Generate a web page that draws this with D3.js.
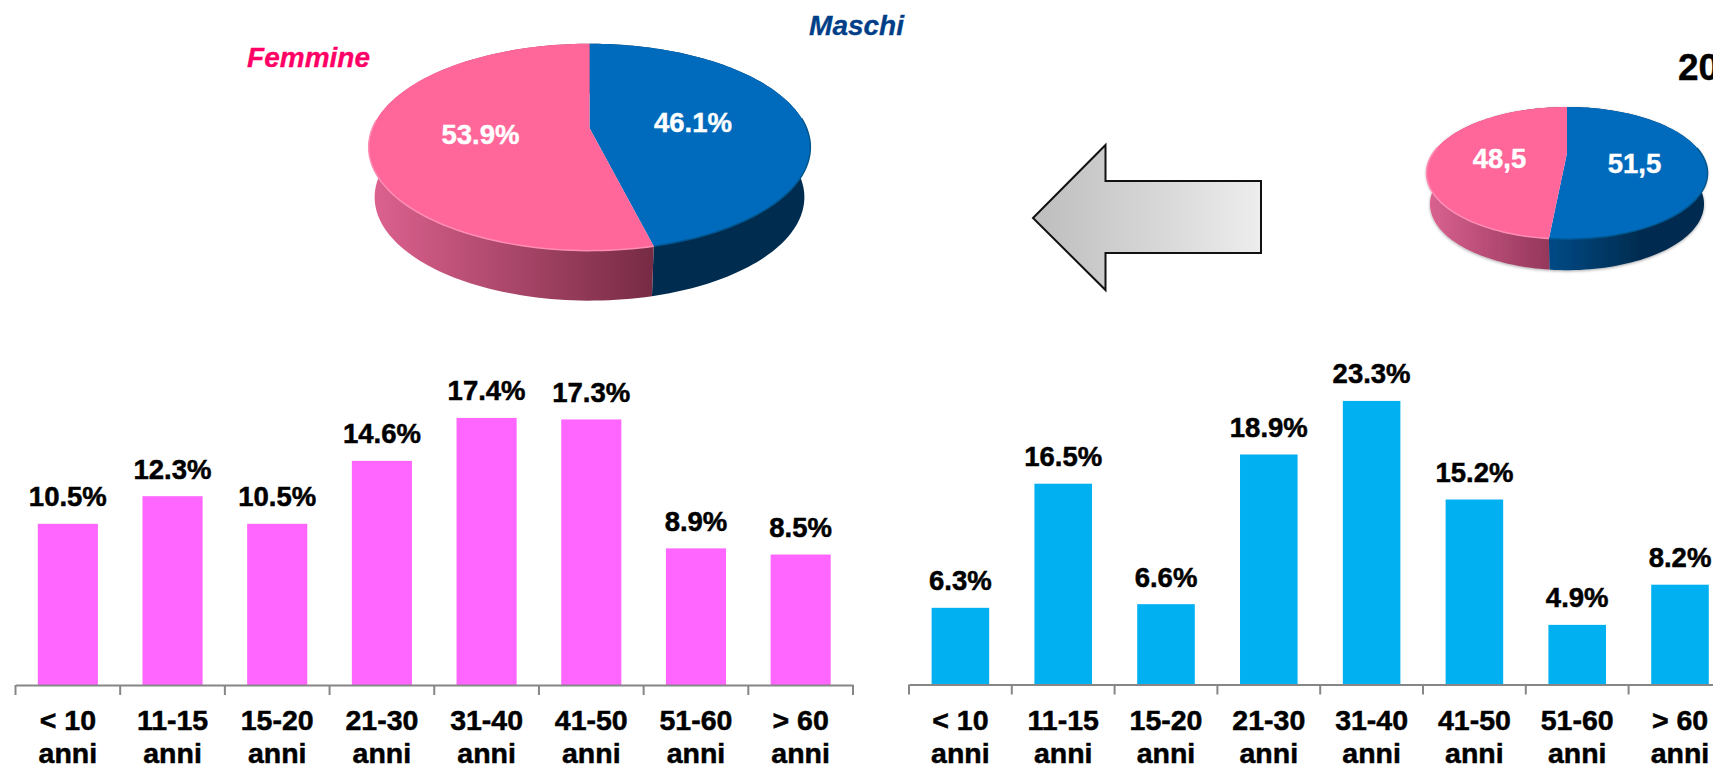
<!DOCTYPE html>
<html>
<head>
<meta charset="utf-8">
<script src="https://cdn.jsdelivr.net/npm/d3@7"></script>
<style>
  body { margin: 0; background: #fff; overflow: hidden; }
  text { font-family: "Liberation Sans", Arial, sans-serif; font-weight: bold; }
</style>
</head>
<body>
<svg id="chart" width="1713" height="768"></svg>
<script>
// data
var ageGroups = ["< 10", "11-15", "15-20", "21-30", "31-40", "41-50", "51-60", "> 60"];
var femaleAges = [10.5, 12.3, 10.5, 14.6, 17.4, 17.3, 8.9, 8.5];
var maleAges = [6.3, 16.5, 6.6, 18.9, 23.3, 15.2, 4.9, 8.2];
var sexes = ["Maschi", "Femmine"];
var sexShareNow = [46.1, 53.9];
var sexShareBefore = [51.5, 48.5];

var svg = d3.select("#chart");
var defs = svg.append("defs");

function hGradient(id, x1, x2, c1, c2) {
  var g = defs.append("linearGradient").attr("id", id)
    .attr("gradientUnits", "userSpaceOnUse")
    .attr("x1", x1).attr("x2", x2).attr("y1", 0).attr("y2", 0);
  g.append("stop").attr("offset", 0).attr("stop-color", c1);
  g.append("stop").attr("offset", 1).attr("stop-color", c2);
}

hGradient("pinkBig", 371, 652, "#dd628f", "#772b44");
hGradient("blueBig", 652, 805, "#002c50", "#002c50");
hGradient("pinkSmall", 1428, 1551, "#da6290", "#93365a");
hGradient("blueSmall", 1551, 1640, "#004a85", "#002c50");
hGradient("arrowFill", 1033, 1261, "#bdbdbd", "#ededed");

defs.append("filter").attr("id", "soft")
  .append("feGaussianBlur").attr("stdDeviation", 0.7);
var shadow = defs.append("filter").attr("id", "halo")
  .attr("x", "-5%").attr("y", "-5%").attr("width", "110%").attr("height", "115%");
shadow.append("feDropShadow").attr("dx", 0).attr("dy", 1)
  .attr("stdDeviation", 1.5).attr("flood-color", "#000").attr("flood-opacity", 0.35);

// ---- arrow
var arrowPts = [[1033, 218], [1105.5, 145], [1105.5, 181], [1261, 181], [1261, 253], [1105.5, 253], [1105.5, 290]];
svg.append("path")
  .attr("d", d3.line()(arrowPts) + "Z")
  .attr("fill", "url(#arrowFill)")
  .attr("stroke", "#111")
  .attr("stroke-width", 2);

// ---- perspective pies
var pie = d3.pie().sort(null);
var pieColors = ["#006bbd", "#ff6699"];

function drawPie(values, o) {
  var g = svg.append("g");
  var slices = pie(values);

  // unit circle seen in perspective
  function rim(a) {
    var u = Math.sin(a), v = -Math.cos(a), w = 1 - o.k * v;
    return [o.cx + o.a * u / w, o.cy + o.b * v / w];
  }
  function base(a) {
    var p = rim(a);
    return [o.cx + (p[0] - o.cx) * o.baseScale, p[1] + o.depth];
  }
  function angles(d) {
    var n = 120;
    return d3.range(n + 1).map(function(i) {
      return d.startAngle + (d.endAngle - d.startAngle) * i / n;
    });
  }
  var line = d3.line();

  // walls first
  g.append("g").attr("filter", o.halo ? "url(#halo)" : null)
    .selectAll(".wall").data(slices).enter().append("path")
    .attr("class", "wall")
    .attr("fill", function(d, i) { return "url(#" + o.walls[i] + ")"; })
    .attr("d", function(d) {
      var as = angles(d);
      return line(as.map(rim).concat(as.slice().reverse().map(base))) + "Z";
    });

  g.selectAll(".face").data(slices).enter().append("path")
    .attr("class", "face")
    .attr("fill", function(d, i) { return pieColors[i]; })
    .attr("d", function(d) {
      return line([[o.cx, o.cy]].concat(angles(d).map(rim))) + "Z";
    });

  // thin bevel on the front edge
  g.selectAll(".bevel").data(slices).enter().append("path")
    .attr("class", "bevel")
    .attr("fill", "none")
    .attr("filter", "url(#soft)")
    .attr("stroke", function(d, i) { return i == 0 ? "#00568f" : "#ff8db4"; })
    .attr("stroke-width", 1.5)
    .attr("d", function(d) {
      return line(angles(d).filter(function(a) {
        return Math.cos(a) < 0.1;
      }).map(rim));
    });

  g.selectAll(".val").data(o.labels).enter().append("text")
    .attr("class", "val")
    .attr("fill", "#fff")
    .attr("stroke", "#fff")
    .attr("stroke-width", 0.4)
    .attr("font-size", 27.5)
    .attr("text-anchor", "middle")
    .attr("x", function(d) { return d.x; })
    .attr("y", function(d) { return d.y; })
    .text(function(d, i) { return o.format(values[i]); });
}

drawPie(sexShareNow, {
  cx: 589.5, cy: 128, a: 217, b: 99.9, k: 0.1855, depth: 50, baseScale: 0.973,
  walls: ["blueBig", "pinkBig"],
  labels: [{x: 693, y: 132}, {x: 480.5, y: 144}],
  format: function(d) { return d.toFixed(1) + "%"; }
});

drawPie(sexShareBefore, {
  cx: 1567, cy: 153, a: 133.9, b: 60, k: 0.3036, depth: 31, baseScale: 0.975, halo: true,
  walls: ["blueSmall", "pinkSmall"],
  labels: [{x: 1634.5, y: 172.5}, {x: 1499.5, y: 168}],
  format: function(d) { return d.toFixed(1).replace(".", ","); }
});

// ---- pie captions
svg.append("text").attr("x", 904).attr("y", 35)
  .attr("text-anchor", "end").attr("font-size", 28).attr("font-style", "italic")
  .attr("fill", "#003f87").attr("stroke", "#003f87").attr("stroke-width", 0.3).text(sexes[0]);
svg.append("text").attr("x", 370).attr("y", 67)
  .attr("text-anchor", "end").attr("font-size", 28).attr("font-style", "italic")
  .attr("fill", "#ff0066").attr("stroke", "#ff0066").attr("stroke-width", 0.3).text(sexes[1]);
svg.append("text").attr("x", 1678).attr("y", 80)
  .attr("font-size", 37).attr("fill", "#000").attr("stroke", "#000").attr("stroke-width", 0.4).text("20");

// ---- bar charts
function drawBars(values, o) {
  var x = d3.scaleBand().domain(ageGroups).range(o.xRange)
    .paddingInner(o.padding).paddingOuter(o.padding / 2);
  var y = d3.scaleLinear().domain([0, o.yMax]).range([o.y0, o.y0 - o.yMax * o.pxPerUnit]);
  var g = svg.append("g");

  g.selectAll("rect").data(values).enter().append("rect")
    .attr("x", function(d, i) { return x(ageGroups[i]); })
    .attr("y", function(d) { return y(d); })
    .attr("width", x.bandwidth())
    .attr("height", function(d) { return o.y0 - y(d); })
    .attr("fill", o.color);

  g.selectAll(".barLabel").data(values).enter().append("text")
    .attr("class", "barLabel")
    .attr("x", function(d, i) { return x(ageGroups[i]) + x.bandwidth() / 2; })
    .attr("y", function(d) { return y(d) - 17.5; })
    .attr("text-anchor", "middle")
    .attr("font-size", 27.5)
    .attr("fill", "#000")
    .attr("stroke", "#000")
    .attr("stroke-width", 0.5)
    .text(function(d) { return d.toFixed(1) + "%"; });

  var axis = g.append("g")
    .attr("transform", "translate(0," + o.y0 + ")")
    .call(d3.axisBottom(x).tickSize(0).tickSizeOuter(0));
  axis.select(".domain").attr("stroke", "#868686").attr("stroke-width", 2);

  // tick labels on two lines
  axis.selectAll(".tick text")
    .attr("y", null).attr("dy", null)
    .attr("font-size", 28.5)
    .attr("fill", "#000")
    .attr("stroke", "#000")
    .attr("stroke-width", 0.5)
    .each(function(d) {
      var t = d3.select(this).text(null);
      t.append("tspan").attr("x", 0).attr("y", 45).text(d);
      t.append("tspan").attr("x", 0).attr("y", 78).text("anni");
    });

  // ticks sit between the categories
  var edges = d3.range(ageGroups.length + 1).map(function(i) {
    return o.xRange[0] + i * x.step();
  });
  axis.selectAll(".edge").data(edges).enter().append("line")
    .attr("class", "edge")
    .attr("x1", function(d) { return d; }).attr("x2", function(d) { return d; })
    .attr("y1", 0).attr("y2", 10)
    .attr("stroke", "#868686").attr("stroke-width", 2);
}

drawBars(femaleAges, {xRange: [15.5, 853], padding: 0.426, y0: 685, yMax: 20, pxPerUnit: 15.35, color: "#ff66ff"});
drawBars(maleAges, {xRange: [909, 1731.4], padding: 0.44, y0: 684.5, yMax: 25, pxPerUnit: 12.17, color: "#00b0f0"});
</script>
</body>
</html>
